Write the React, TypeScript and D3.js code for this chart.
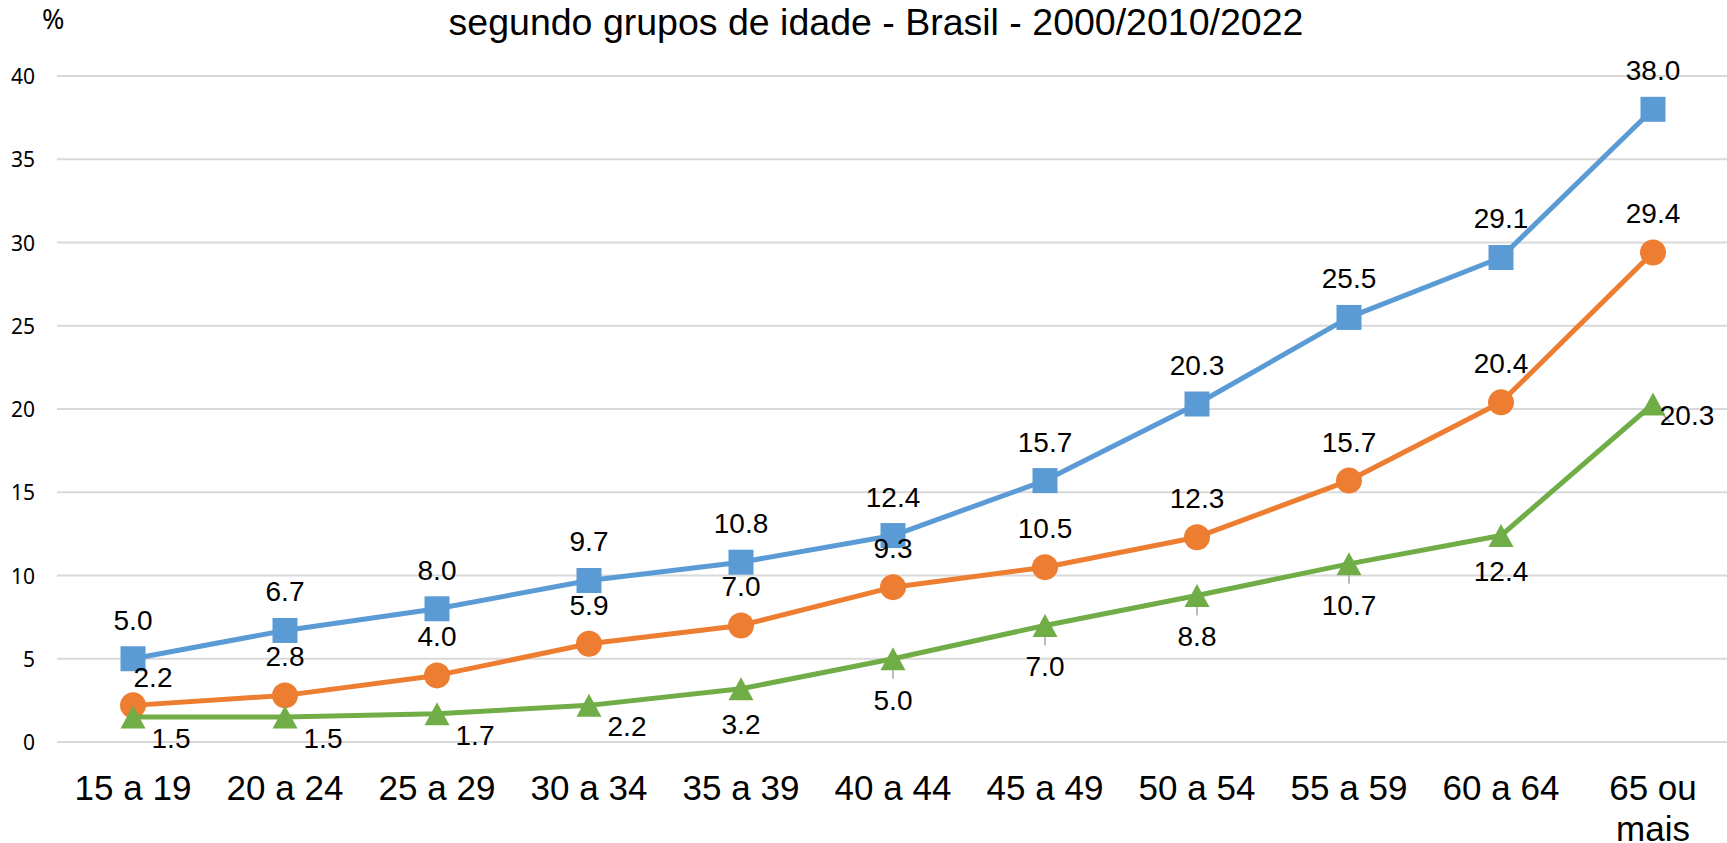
import React, { useEffect, useRef } from "react";
import * as d3 from "d3";

const categories = ["15 a 19", "20 a 24", "25 a 29", "30 a 34", "35 a 39", "40 a 44", "45 a 49", "50 a 54", "55 a 59", "60 a 64", "65 ou mais"];
const yTicks = [0, 5, 10, 15, 20, 25, 30, 35, 40];

const seriesBlue = [5.0, 6.7, 8.0, 9.7, 10.8, 12.4, 15.7, 20.3, 25.5, 29.1, 38.0];
const seriesOrange = [2.2, 2.8, 4.0, 5.9, 7.0, 9.3, 10.5, 12.3, 15.7, 20.4, 29.4];
const seriesGreen = [1.5, 1.5, 1.7, 2.2, 3.2, 5.0, 7.0, 8.8, 10.7, 12.4, 20.3];

// where each data label sits relative to its point
const placeBlue = ["above", "above", "above", "above", "above", "above", "above", "above", "above", "above", "above"];
const placeOrange = ["aboveRight", "above", "above", "above", "above", "above", "above", "above", "above", "above", "above"];
const placeGreen = ["belowRight", "belowRight", "belowRight", "belowRight", "belowNear", "below", "below", "below", "below", "belowNear", "right"];
const leaderOrange = [false, true, true, true, false, true, false, false, false, false, false];
const leaderGreen = [false, false, false, false, false, true, true, true, true, false, true];

const W = 1727, H = 843;
const FONT = "'Liberation Sans', Arial, sans-serif";

const App = () => {
  const svgRef = useRef<SVGSVGElement>(null);

  useEffect(() => {
    document.body.style.margin = "0";
    const svg = d3.select(svgRef.current);
    svg.selectAll("*").remove();

    const x = d3.scalePoint<string>().domain(categories).range([57, 1729]).padding(0.5);
    const y = d3.scaleLinear().domain([0, 40]).range([742, 76]);

    // grid
    svg.append("g")
      .selectAll("line")
      .data(yTicks)
      .join("line")
      .attr("x1", 57)
      .attr("x2", W)
      .attr("y1", d => y(d))
      .attr("y2", d => y(d))
      .attr("stroke", "#d9d9d9")
      .attr("stroke-width", 2);

    svg.append("g")
      .selectAll("text")
      .data(yTicks)
      .join("text")
      .attr("x", 35)
      .attr("y", d => y(d) + 8)
      .attr("text-anchor", "end")
      .style("font-family", "'Noto Sans', sans-serif")
      .style("font-size", "21px")
      .text(d => d);

    svg.append("text")
      .attr("x", 42)
      .attr("y", 29)
      .style("font-family", "'Noto Sans', sans-serif")
      .style("font-size", "27px")
      .text("%");

    svg.append("text")
      .attr("x", 876)
      .attr("y", 35)
      .attr("text-anchor", "middle")
      .style("font-family", FONT)
      .style("font-size", "37.5px")
      .text("segundo grupos de idade - Brasil - 2000/2010/2022");

    // x labels
    const xl = svg.append("g")
      .selectAll("text")
      .data(categories)
      .join("text")
      .attr("text-anchor", "middle")
      .style("font-family", FONT)
      .style("font-size", "35px");
    xl.each(function (d) {
      const t = d3.select(this);
      const lines = d === "65 ou mais" ? ["65 ou", "mais"] : [d];
      lines.forEach((ln, i) => {
        t.append("tspan").attr("x", x(d)!).attr("y", 800 + i * 41).text(ln);
      });
    });

    const series = [
      { values: seriesBlue, color: "#5b9bd5", marker: "square", place: placeBlue, leader: seriesBlue.map(() => false) },
      { values: seriesOrange, color: "#ed7d31", marker: "circle", place: placeOrange, leader: leaderOrange },
      { values: seriesGreen, color: "#70ad47", marker: "triangle", place: placeGreen, leader: leaderGreen },
    ];

    const line = d3.line<number>()
      .x((_, i) => x(categories[i])!)
      .y(d => y(d));

    const offsets: Record<string, [number, number]> = {
      above: [0, -29],
      aboveRight: [20, -18],
      belowRight: [38, 31],
      below: [0, 51],
      belowNear: [0, 45],
      right: [34, 21],
    };

    series.forEach(s => {
      const g = svg.append("g");
      g.append("path")
        .attr("d", line(s.values))
        .attr("fill", "none")
        .attr("stroke", s.color)
        .attr("stroke-width", 5)
        .attr("stroke-linejoin", "round");

      // leader lines
      g.selectAll("line.leader")
        .data(s.values.map((v, i) => ({ v, i })).filter(d => s.leader[d.i]))
        .join("line")
        .attr("x1", d => x(categories[d.i])!)
        .attr("y1", d => y(d.v))
        .attr("x2", d => x(categories[d.i])! + (s.place[d.i] === "right" ? 17 : 0))
        .attr("y2", d => {
          const p = s.place[d.i];
          if (p === "right") return y(d.v) + 18;
          if (p === "below") return y(d.v) + 20;
          return y(d.v) - 13;
        })
        .attr("stroke", "#a6a6a6")
        .attr("stroke-width", 1.5);

      const m = g.selectAll("path.m")
        .data(s.values)
        .join("path")
        .attr("transform", (d, i) => `translate(${x(categories[i])},${y(d)})`)
        .attr("fill", s.color);
      if (s.marker === "square") m.attr("d", "M-12.5,-12.5H12.5V12.5H-12.5Z");
      else if (s.marker === "circle") m.attr("d", d3.symbol().type(d3.symbolCircle).size(Math.PI * 13 * 13)()!);
      else m.attr("d", "M0,-11.5L12.5,11.5H-12.5Z");

      g.selectAll("text")
        .data(s.values)
        .join("text")
        .attr("x", (d, i) => x(categories[i])! + offsets[s.place[i]][0])
        .attr("y", (d, i) => y(d) + offsets[s.place[i]][1])
        .attr("text-anchor", "middle")
        .style("font-family", FONT)
        .style("font-size", "28px")
        .text(d => d.toFixed(1));
    });
  }, []);

  return <svg ref={svgRef} width={W} height={H} style={{ display: "block", background: "#fff" }}></svg>;
};

export default App;
